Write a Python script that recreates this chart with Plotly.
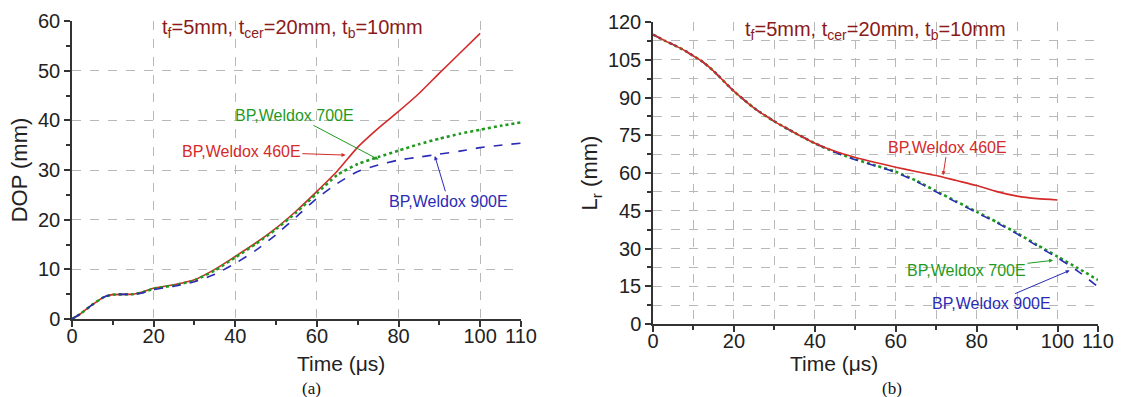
import plotly.graph_objects as go

# ---------------- data: (a) DOP vs time ----------------
t_red_a = [0, 2, 5, 8, 10, 15, 17, 20, 25, 30, 35, 40, 45, 50, 55, 60, 65, 70, 75, 80, 85, 90, 95, 100]
dop_460 = [0, 1.0, 2.9, 4.5, 4.9, 5.0, 5.4, 6.2, 6.9, 7.9, 10.0, 12.6, 15.3, 18.3, 21.8, 25.7, 29.8, 34.6, 38.4, 41.8, 45.4, 49.5, 53.5, 57.5]

t_grn_a = [0, 2, 5, 8, 10, 15, 17, 20, 25, 30, 35, 40, 45, 50, 55, 60, 65, 70, 75, 80, 85, 90, 95, 100, 105, 110]
dop_700 = [0, 1.0, 2.9, 4.5, 4.9, 5.0, 5.3, 6.1, 6.8, 7.8, 9.8, 12.4, 15.1, 18.1, 21.5, 25.3, 29.0, 31.2, 32.6, 33.9, 35.2, 36.3, 37.3, 38.1, 38.9, 39.6]

t_blu_a = [0, 2, 5, 8, 10, 15, 17, 20, 25, 30, 35, 40, 45, 50, 55, 60, 65, 70, 75, 80, 85, 90, 95, 100, 105, 110]
dop_900 = [0, 1.0, 2.9, 4.5, 4.9, 5.0, 5.2, 5.9, 6.6, 7.5, 9.0, 11.2, 13.8, 17.0, 20.6, 24.3, 27.3, 29.7, 31.0, 32.0, 32.6, 33.2, 33.8, 34.5, 35.0, 35.4]

# ---------------- data: (b) residual length vs time ----------------
t_red_b = [0, 3, 5, 8, 10, 12, 15, 20, 25, 30, 35, 40, 45, 50, 55, 60, 65, 70, 75, 80, 85, 90, 95, 100]
lr_460 = [115, 112.5, 111, 108.5, 106.5, 104.5, 100.5, 92.5, 85.8, 80.5, 76, 71.8, 68.6, 66.2, 64.2, 62.3, 60.6, 59.0, 57.0, 55.0, 52.6, 50.8, 49.8, 49.3]

t_grn_b = [0, 3, 5, 8, 10, 12, 15, 20, 25, 30, 35, 40, 45, 50, 55, 60, 65, 70, 75, 80, 85, 90, 95, 100, 105, 110]
lr_700 = [115, 112.5, 111, 108.5, 106.5, 104.5, 100.5, 92.5, 85.8, 80.5, 76, 71.8, 68.3, 65.5, 63.0, 60.5, 57.0, 52.8, 48.7, 44.6, 40.5, 36.1, 31.4, 26.8, 22.2, 17.5]

t_blu_b = [0, 3, 5, 8, 10, 12, 15, 20, 25, 30, 35, 40, 45, 50, 55, 60, 65, 70, 75, 80, 85, 90, 95, 100, 105, 110]
lr_900 = [115, 112.5, 111, 108.5, 106.5, 104.5, 100.5, 92.5, 85.8, 80.5, 76, 71.8, 68.2, 65.3, 62.8, 60.2, 56.7, 52.5, 48.4, 44.3, 40.2, 35.8, 31.0, 26.3, 21.0, 14.8]

x_ticks = [0, 20, 40, 60, 80, 100, 110]
y_ticks_a = [0, 10, 20, 30, 40, 50, 60]
y_ticks_b = [0, 15, 30, 45, 60, 75, 90, 105, 120]

RED = "#d42a2a"
GREEN = "#1f9a1f"
BLUE = "#2b2bb5"
TITLE_RED = "#8b1a1a"
AX = "#333333"
GRID = "#b8b8b8"
FONT = "Liberation Sans, Arial, sans-serif"
SERIF = "Liberation Serif, Times New Roman, serif"

fig = go.Figure()


def line(x, y, color, width, dash, xa, ya):
    return go.Scatter(x=x, y=y, mode="lines",
                      line=dict(color=color, width=width, dash=dash, shape="spline", smoothing=0.6),
                      xaxis=xa, yaxis=ya, showlegend=False, hoverinfo="skip")


fig.add_trace(line(t_red_a, dop_460, RED, 1.6, "solid", "x", "y"))
fig.add_trace(line(t_grn_a, dop_700, GREEN, 2.6, "dot", "x", "y"))
fig.add_trace(line(t_blu_a, dop_900, BLUE, 1.6, "dash", "x", "y"))

fig.add_trace(line(t_grn_b, lr_700, GREEN, 2.6, "dot", "x2", "y2"))
fig.add_trace(line(t_blu_b, lr_900, BLUE, 1.6, "dash", "x2", "y2"))
fig.add_trace(line(t_red_b, lr_460, RED, 1.6, "solid", "x2", "y2"))

tickfont = dict(family=FONT, size=20, color="#222222")
titlefont = dict(family=FONT, size=21, color="#222222")

common_x = dict(range=[0, 110], tickmode="array", tickvals=x_ticks, showline=True, linecolor=AX,
                linewidth=1.5, ticks="outside", ticklen=6, tickwidth=1.5, tickcolor=AX,
                tickfont=tickfont, zeroline=False, showgrid=True, gridcolor=GRID, griddash="dash",
                gridwidth=1, automargin=False, ticklabelstandoff=-8)

fig.update_layout(
    template="none",
    width=1130, height=397,
    margin=dict(l=0, r=0, t=0, b=0, autoexpand=False),
    paper_bgcolor="white", plot_bgcolor="white",
    xaxis=dict(domain=[72 / 1130, 521 / 1130], anchor="y",
               minor=dict(tickvals=[10, 30, 50, 70, 90], ticks="outside", ticklen=4, tickcolor=AX,
                          showgrid=False),
               **common_x),
    yaxis=dict(domain=[78 / 397, 376 / 397], anchor="x", range=[0, 60], tickmode="array",
               tickvals=y_ticks_a, showline=True, linecolor=AX, linewidth=1.5, ticks="outside",
               ticklen=6, tickwidth=1.5, tickcolor=AX, tickfont=tickfont, zeroline=False,
               showgrid=True, gridcolor=GRID, griddash="dash", automargin=False,
               minor=dict(dtick=5, tick0=0, ticks="outside", ticklen=4, tickcolor=AX, showgrid=False),
               title=dict(text="DOP (mm)", font=dict(family=FONT, size=22, color="#222222"), standoff=4)),
    xaxis2=dict(domain=[653 / 1130, 1098 / 1130], anchor="y2",
                minor=dict(tickvals=[10, 30, 50, 70, 90], ticks="outside", ticklen=4, tickcolor=AX,
                           showgrid=True, gridcolor=GRID, griddash="dash"),
                **common_x),
    yaxis2=dict(domain=[73 / 397, 375 / 397], anchor="x2", range=[0, 120], tickmode="array",
                tickvals=y_ticks_b, showline=True, linecolor=AX, linewidth=1.5, ticks="outside",
                ticklen=6, tickwidth=1.5, tickcolor=AX, tickfont=tickfont, zeroline=False,
                showgrid=True, gridcolor=GRID, griddash="dash", automargin=False,
                minor=dict(dtick=7.5, tick0=0, ticks="outside", ticklen=4, tickcolor=AX,
                           showgrid=True, gridcolor=GRID, griddash="dash"),
                title=dict(text="L<sub>r</sub> (mm)", font=dict(family=FONT, size=22, color="#222222"),
                           standoff=4)),
)

ann_font = dict(family=FONT, size=16)
title_text = "t<sub>f</sub>=5mm, t<sub>cer</sub>=20mm, t<sub>b</sub>=10mm"


def label(xr, yr, text, color, tip, pos):
    # text placed at pos (data coords), arrow pointing to tip (data coords)
    return dict(xref=xr, yref=yr, axref=xr, ayref=yr, x=tip[0], y=tip[1], ax=pos[0], ay=pos[1],
                text=text, showarrow=True, arrowhead=2, arrowsize=0.8, arrowwidth=1,
                arrowcolor=color, standoff=0, startstandoff=0, font=dict(color=color, **ann_font))


annotations = [
    dict(xref="x", yref="y", x=54, y=58.5, text=title_text, showarrow=False,
         font=dict(family=FONT, size=20, color=TITLE_RED)),
    label("x", "y", "BP,Weldox 700E", GREEN, (75.1, 32.1), (54.5, 41.0)),
    label("x", "y", "BP,Weldox 460E", RED, (67.0, 33.0), (41.5, 33.7)),
    label("x", "y", "BP,Weldox 900E", BLUE, (88.9, 32.8), (92.2, 23.7)),
    dict(xref="x2", yref="y2", x=55, y=116.5, text=title_text, showarrow=False,
         font=dict(family=FONT, size=20, color=TITLE_RED)),
    label("x2", "y2", "BP,Weldox 460E", RED, (71.7, 59.1), (72.8, 70.3)),
    label("x2", "y2", "BP,Weldox 700E", GREEN, (98.9, 25.3), (77.5, 21.3)),
    label("x2", "y2", "BP,Weldox 900E", BLUE, (103.0, 21.3), (83.7, 8.1)),
    # x-axis titles
    dict(xref="paper", yref="paper", x=295 / 1130, y=(397 - 363) / 397, yanchor="middle",
         text="Time (\u03bcs)", showarrow=False, font=titlefont),
    dict(xref="paper", yref="paper", x=880 / 1130, y=(397 - 363) / 397, yanchor="middle",
         text="Time (\u03bcs)", showarrow=False, font=titlefont),
    # captions
    dict(xref="paper", yref="paper", x=300 / 1130, y=(397 - 388) / 397, yanchor="middle",
         text="(a)", showarrow=False, font=dict(family=SERIF, size=17, color="#111111")),
    dict(xref="paper", yref="paper", x=904 / 1130, y=(397 - 388) / 397, yanchor="middle",
         text="(b)", showarrow=False, font=dict(family=SERIF, size=17, color="#111111")),
]
fig.update_layout(annotations=annotations)

fig.write_html("out.html")
